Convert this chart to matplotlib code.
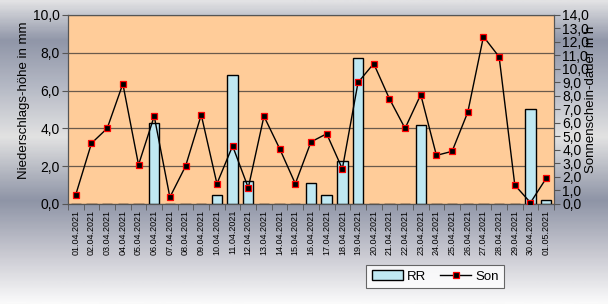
import matplotlib
matplotlib.use("Agg")
import matplotlib.pyplot as plt
import numpy as np
from matplotlib.colors import LinearSegmentedColormap
from matplotlib.ticker import FuncFormatter, FixedLocator
from matplotlib.lines import Line2D
from matplotlib.patches import Patch

plt.rcParams["font.family"] = ["Liberation Sans", "DejaVu Sans"]

# ---- data -------------------------------------------------------------------
days = ["01.04.2021", "02.04.2021", "03.04.2021", "04.04.2021", "05.04.2021",
        "06.04.2021", "07.04.2021", "08.04.2021", "09.04.2021", "10.04.2021",
        "11.04.2021", "12.04.2021", "13.04.2021", "14.04.2021", "15.04.2021",
        "16.04.2021", "17.04.2021", "18.04.2021", "19.04.2021", "20.04.2021",
        "21.04.2021", "22.04.2021", "23.04.2021", "24.04.2021", "25.04.2021",
        "26.04.2021", "27.04.2021", "28.04.2021", "29.04.2021", "30.04.2021",
        "01.05.2021"]
rr = [0, 0, 0, 0, 0, 4.3, 0, 0, 0, 0.5,
      6.8, 1.2, 0, 0, 0, 1.1, 0.5, 2.3, 7.7, 0,
      0, 0, 4.2, 0, 0, 0, 0, 0, 0, 5.0,
      0.2]
son = [0.7, 4.5, 5.6, 8.9, 2.9, 6.5, 0.5, 2.8, 6.6, 1.5,
       4.3, 1.2, 6.5, 4.1, 1.5, 4.6, 5.2, 2.6, 9.0, 10.4,
       7.8, 5.6, 8.1, 3.6, 3.9, 6.8, 12.4, 10.9, 1.4, 0.1,
       1.9]

# ---- style ------------------------------------------------------------------
PLOT_BG = "#FFCC99"
GRID = "#6a5a4c"
BAR = "#bfe8f2"
SPINE = "#555555"

fig = plt.figure(figsize=(6.08, 3.04), dpi=100)

# hintergrund-verlauf (grau/blau streifen)
bg = fig.add_axes([0, 0, 1, 1], zorder=-10)
cmap = LinearSegmentedColormap.from_list("bg", [
    (0.00, "#e2e2e4"), (0.13, "#9096a8"), (0.28, "#b4b8c4"),
    (0.45, "#e2e2e2"), (0.66, "#8e94a6"), (0.84, "#cacad2"),
    (1.00, "#fafafa")])
bg.imshow(np.linspace(0, 1, 300).reshape(-1, 1), aspect="auto", cmap=cmap,
          extent=[0, 1, 0, 1], origin="upper")
bg.axis("off")

ax = fig.add_axes([0.1118, 0.329, 0.7994, 0.6217])
ax.set_facecolor(PLOT_BG)
x = np.arange(len(days))
ax.bar(x, rr, width=0.66, color=BAR, edgecolor="black", linewidth=1.0, zorder=2)
ax.set_xlim(-0.5, len(days) - 0.5)
ax.set_ylim(0, 10)
ax.set_yticks(np.arange(0, 10.1, 2))
ax.yaxis.set_major_formatter(FuncFormatter(lambda v, p: f"{v:.1f}".replace(".", ",")))
ax.grid(axis="y", color=GRID, lw=0.9, zorder=1)
ax.set_axisbelow(True)
ax.set_xticks(x)
ax.set_xticklabels(days, rotation=90, fontsize=6.5)
ax.tick_params(axis="x", length=0, pad=4)
ax.xaxis.set_minor_locator(FixedLocator(np.arange(-0.5, len(days), 1)))
ax.tick_params(axis="x", which="minor", length=4, color=SPINE)
ax.tick_params(axis="y", labelsize=10, length=4, color=SPINE, pad=2)
for s in ax.spines.values():
    s.set_color(SPINE)

ax2 = ax.twinx()
ax2.plot(x, son, color="black", lw=1.0, marker="s", ms=5,
         mfc="black", mec="red", mew=0.9, zorder=3)
ax2.set_ylim(0, 14)
ax2.set_yticks(np.arange(0, 14.1, 1))
ax2.yaxis.set_major_formatter(FuncFormatter(lambda v, p: f"{v:.1f}".replace(".", ",")))
ax2.tick_params(axis="y", labelsize=10, length=4, color=SPINE, pad=2)
for s in ax2.spines.values():
    s.set_color(SPINE)

fig.text(0.039, 0.671, "Niederschlags-höhe in mm", rotation=90,
         ha="center", va="center", fontsize=9.5)
fig.text(0.972, 0.674, "Sonnenschein-dauer in h", rotation=90,
         ha="center", va="center", fontsize=9.5)

handles = [Patch(facecolor=BAR, edgecolor="black", lw=1.0),
           Line2D([], [], color="black", lw=1.0, marker="s", ms=5,
                  mfc="black", mec="red", mew=0.9)]
leg = fig.legend(handles, ["RR", "Son"], loc="center",
                 bbox_to_anchor=(0.716, 0.0905), ncol=2, fontsize=9.5,
                 frameon=True, fancybox=False, handlelength=2.4,
                 handletextpad=0.3, columnspacing=1.0, borderpad=0.4)
leg.get_frame().set_edgecolor("#444444")
leg.get_frame().set_linewidth(0.8)

fig.savefig("out.png", dpi=100)
